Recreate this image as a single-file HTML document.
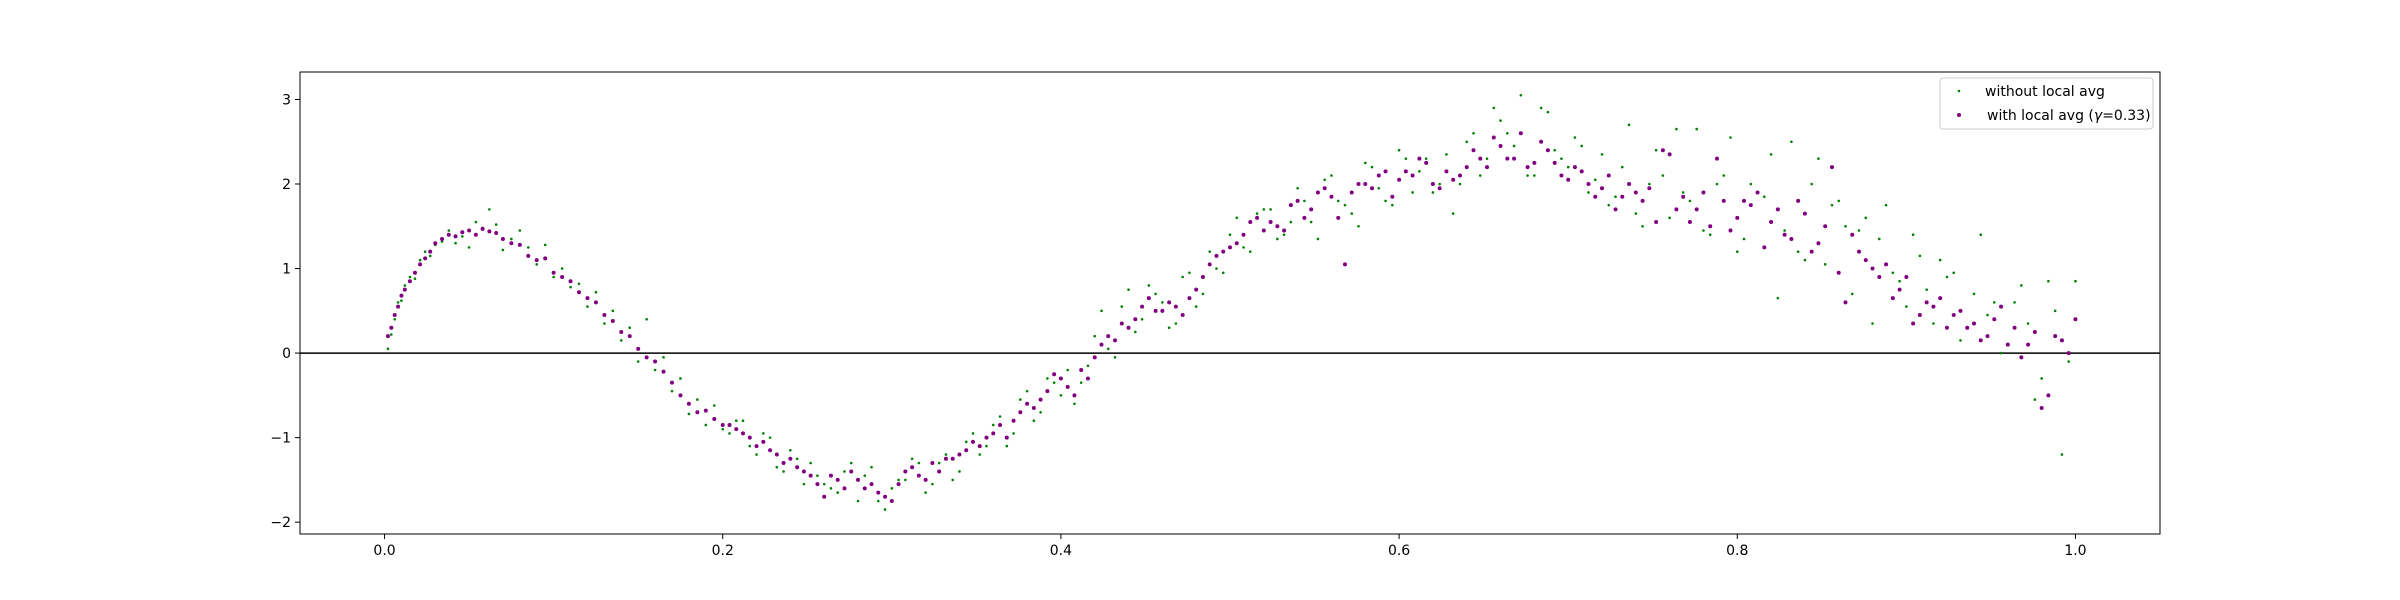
<!DOCTYPE html>
<html><head><meta charset="utf-8"><style>
body{margin:0;background:#fff;}
svg{display:block;font-family:"DejaVu Sans","Liberation Sans",sans-serif;}
</style></head><body>
<svg id="chart" width="2400" height="600">
<rect width="2400" height="600" fill="#fff"/>
<g id="pts"></g>
<g id="axes"></g>
<g>
<rect x="1940" y="78" width="213" height="51" rx="3" fill="#fff" fill-opacity="0.8" stroke="#ccc"/>
<circle cx="1959" cy="91" r="1.3" fill="green"/>
<text x="1985" y="96" font-size="14">without local avg</text>
<circle cx="1959" cy="115" r="2" fill="purple"/>
<text x="1987" y="120" font-size="14">with local avg (<tspan font-style="italic">γ</tspan>=0.33)</text>
</g>
</svg>
<script>
const xs=[0.002,0.004,0.006,0.008,0.01,0.012,0.015,0.018,0.021,0.024,0.027,0.03,0.034,0.038,0.042,0.046,0.05,0.054,0.058,0.062,0.066,0.07,0.075,0.08,0.085,0.09,0.095,0.1,0.105,0.11,0.115,0.12,0.125,0.13,0.135,0.14,0.145,0.15,0.155,0.16,0.165,0.17,0.175,0.18,0.185,0.19,0.195,0.2,
0.208,0.216,0.224,0.232,0.24,0.248,0.256,0.264,0.272,0.28,0.288,0.296,0.304,0.312,0.32,0.328,0.336,0.344,0.352,0.36,0.368,0.376,0.384,0.392,0.4,0.408,0.416,0.424,0.432,0.44,0.448,0.456,0.464,0.472,0.48,0.488,0.496,0.504,0.512,0.52,0.528,0.536,0.544,0.552,0.56,0.568,0.576,0.584,0.592,0.6,0.608,0.616,0.624,0.632,0.64,0.648,0.656,0.664,0.672,0.68,0.688,0.696,0.704,0.712,0.72,0.728,0.736,0.744,0.752,0.76,0.768,0.776,0.784,0.792,0.8,0.808,0.816,0.824,0.832,0.84,0.848,0.856,0.864,0.872,0.88,0.888,0.896,0.904,0.912,0.92,0.928,0.936,0.944,0.952,0.96,0.968,0.976,0.984,0.992,1.0];
const purpleY=[0.2,0.3,0.45,0.55,0.68,0.75,0.85,0.95,1.05,1.12,1.2,1.3,1.35,1.4,1.38,1.43,1.45,1.4,1.47,1.44,1.42,1.35,1.3,1.28,1.15,1.1,1.12,0.95,0.9,0.85,0.72,0.65,0.6,0.45,0.38,0.25,0.2,0.05,-0.05,-0.1,-0.22,-0.35,-0.5,-0.6,-0.7,-0.68,-0.78,-0.85,
-0.9,-1.0,-1.05,-1.2,-1.25,-1.4,-1.55,-1.45,-1.6,-1.5,-1.55,-1.7,-1.55,-1.35,-1.5,-1.4,-1.25,-1.15,-1.1,-0.95,-1.0,-0.7,-0.65,-0.45,-0.3,-0.5,-0.3,0.1,0.15,0.3,0.55,0.5,0.6,0.45,0.75,1.05,1.2,1.3,1.55,1.45,1.5,1.75,1.6,1.9,1.85,1.05,2.0,1.95,2.15,2.05,2.1,2.25,1.95,2.05,2.2,2.3,2.55,2.3,2.6,2.25,2.4,2.1,2.2,2.0,1.95,1.7,2.0,1.8,1.55,2.35,1.85,1.7,1.5,1.8,1.6,1.75,1.25,1.7,1.35,1.65,1.3,2.2,0.6,1.2,1.0,1.05,0.75,0.35,0.6,0.65,0.45,0.3,0.15,0.4,0.1,-0.05,0.25,-0.5,0.15,0.4];
const greenY=[0.05,0.22,0.4,0.6,0.62,0.8,0.9,0.88,1.1,1.2,1.15,1.28,1.32,1.45,1.3,1.38,1.25,1.55,1.48,1.7,1.52,1.22,1.35,1.45,1.25,1.05,1.28,0.9,1.0,0.78,0.82,0.55,0.72,0.35,0.5,0.15,0.3,-0.1,0.4,-0.2,-0.05,-0.45,-0.3,-0.72,-0.55,-0.85,-0.62,-0.9,
-0.8,-1.1,-0.95,-1.35,-1.15,-1.55,-1.45,-1.6,-1.4,-1.75,-1.35,-1.85,-1.5,-1.25,-1.65,-1.3,-1.5,-1.05,-1.2,-0.85,-1.1,-0.55,-0.8,-0.3,-0.5,-0.6,-0.15,0.5,-0.05,0.75,0.4,0.7,0.3,0.9,0.55,1.2,0.95,1.6,1.2,1.7,1.35,1.55,1.8,1.35,2.1,1.75,1.5,2.2,1.8,2.4,1.9,2.3,2.0,1.65,2.5,2.1,2.9,2.6,3.05,2.1,2.85,2.3,2.55,1.9,2.35,1.85,2.7,1.5,2.4,1.6,1.9,2.65,1.4,2.1,1.2,2.0,1.85,0.65,2.5,1.1,2.3,1.75,1.5,1.45,0.35,1.75,0.85,1.4,0.75,1.1,0.95,0.3,1.4,0.6,0.1,0.8,-0.55,0.85,-1.2,0.85];
const xs2=[0.204,0.212,0.22,0.228,0.236,0.244,0.252,0.26,0.268,0.276,0.284,0.292,0.3,0.308,0.316,0.324,0.332,0.34,0.348,0.356,0.364,0.372,0.38,0.388,0.396,0.404,0.412,0.42,0.428,0.436,0.444,0.452,0.46,0.468,0.476,0.484,0.492,0.5,0.508,0.516,0.524,0.532,0.54,0.548,0.556,0.564,0.572,0.58,0.588,0.596,0.604,0.612,0.62,0.628,0.636,0.644,0.652,0.66,0.668,0.676,0.684,0.692,0.7,0.708,0.716,0.724,0.732,0.74,0.748,0.756,0.764,0.772,0.78,0.788,0.796,0.804,0.812,0.82,0.828,0.836,0.844,0.852,0.86,0.868,0.876,0.884,0.892,0.9,0.908,0.916,0.924,0.932,0.94,0.948,0.956,0.964,0.972,0.98,0.988,0.996];
const purpleY2=[-0.85,-0.95,-1.1,-1.15,-1.3,-1.35,-1.45,-1.7,-1.5,-1.4,-1.6,-1.65,-1.75,-1.4,-1.45,-1.3,-1.25,-1.2,-1.05,-1.0,-0.85,-0.8,-0.6,-0.55,-0.25,-0.4,-0.2,-0.05,0.2,0.35,0.4,0.65,0.5,0.55,0.65,0.9,1.15,1.25,1.4,1.6,1.55,1.45,1.8,1.7,1.95,1.6,1.9,2.0,2.1,1.85,2.15,2.3,2.0,2.15,2.1,2.4,2.2,2.45,2.3,2.2,2.5,2.25,2.05,2.15,1.85,2.1,1.85,1.9,1.95,2.4,1.7,1.55,1.9,2.3,1.45,1.8,1.9,1.55,1.4,1.8,1.2,1.5,0.95,1.4,1.1,0.9,0.65,0.9,0.45,0.55,0.3,0.5,0.35,0.2,0.55,0.3,0.1,-0.65,0.2,0.0];
const greenY2=[-0.95,-0.8,-1.2,-1.0,-1.4,-1.25,-1.3,-1.55,-1.65,-1.3,-1.45,-1.75,-1.6,-1.5,-1.3,-1.55,-1.2,-1.4,-0.95,-1.1,-0.75,-0.95,-0.45,-0.7,-0.35,-0.2,-0.35,0.2,0.05,0.55,0.25,0.8,0.6,0.35,0.95,0.7,1.0,1.4,1.25,1.65,1.7,1.4,1.95,1.55,2.05,1.8,1.65,2.25,1.95,1.75,2.3,2.15,1.9,2.35,2.0,2.6,2.3,2.75,2.45,2.1,2.9,2.4,2.2,2.45,2.05,1.75,2.2,1.65,2.0,2.1,2.65,1.8,1.45,2.0,2.55,1.35,1.9,2.35,1.45,1.2,2.0,1.05,1.8,0.7,1.6,1.35,0.95,0.55,1.15,0.35,0.9,0.15,0.7,0.45,0.0,0.6,0.35,-0.3,0.5,-0.1];
const xTicks=[0,0.2,0.4,0.6,0.8,1.0];
const xTickLabels=["0.0","0.2","0.4","0.6","0.8","1.0"];
const yTicks=[-2,-1,0,1,2,3];
const yTickLabels=["−2","−1","0","1","2","3"];

const L=300,R=2160,T=72,B=534,xMin=-0.05,xMax=1.05,yMin=-2.14,yMax=3.325;
const sx=v=>L+(v-xMin)/(xMax-xMin)*(R-L);
const sy=v=>B-(v-yMin)/(yMax-yMin)*(B-T);
const NS="http://www.w3.org/2000/svg";
function mk(tag,attrs,parent){const e=document.createElementNS(NS,tag);for(const k in attrs)e.setAttribute(k,attrs[k]);parent.appendChild(e);return e;}
const pts=document.getElementById('pts'),axes=document.getElementById('axes');
const zl=mk('line',{x1:L,x2:R,y1:sy(0),y2:sy(0),stroke:'#000','stroke-width':1.5},pts);


function drawSeries(xArr,yArr,r,color,name){
 for(let i=0;i<Math.min(xArr.length,yArr.length);i++){
  const c=mk('circle',{cx:sx(xArr[i]),cy:sy(yArr[i]),r:r,fill:color},pts);
  
  
 }
}
drawSeries(xs,greenY,1.3,'green','point-without-avg');
drawSeries(xs2,greenY2,1.3,'green','point-without-avg');
drawSeries(xs,purpleY,2,'purple','point-with-avg');
drawSeries(xs2,purpleY2,2,'purple','point-with-avg');
const fr=mk('rect',{x:L,y:T,width:R-L,height:B-T,fill:'none',stroke:'#000','stroke-width':1},axes);


xTicks.forEach((v,i)=>{
 const t=mk('line',{x1:sx(v),x2:sx(v),y1:B,y2:B+5,stroke:'#000'},axes);
 
 
 const tx=mk('text',{x:sx(v),y:B+21,'font-size':14,'text-anchor':'middle'},axes);
 tx.textContent=xTickLabels[i];
 
 
});
yTicks.forEach((v,i)=>{
 const t=mk('line',{x1:L-5,x2:L,y1:sy(v),y2:sy(v),stroke:'#000'},axes);
 
 
 const tx=mk('text',{x:L-9,y:sy(v)+5,'font-size':14,'text-anchor':'end'},axes);
 tx.textContent=yTickLabels[i];
 
 
});
</script>
</body></html>
